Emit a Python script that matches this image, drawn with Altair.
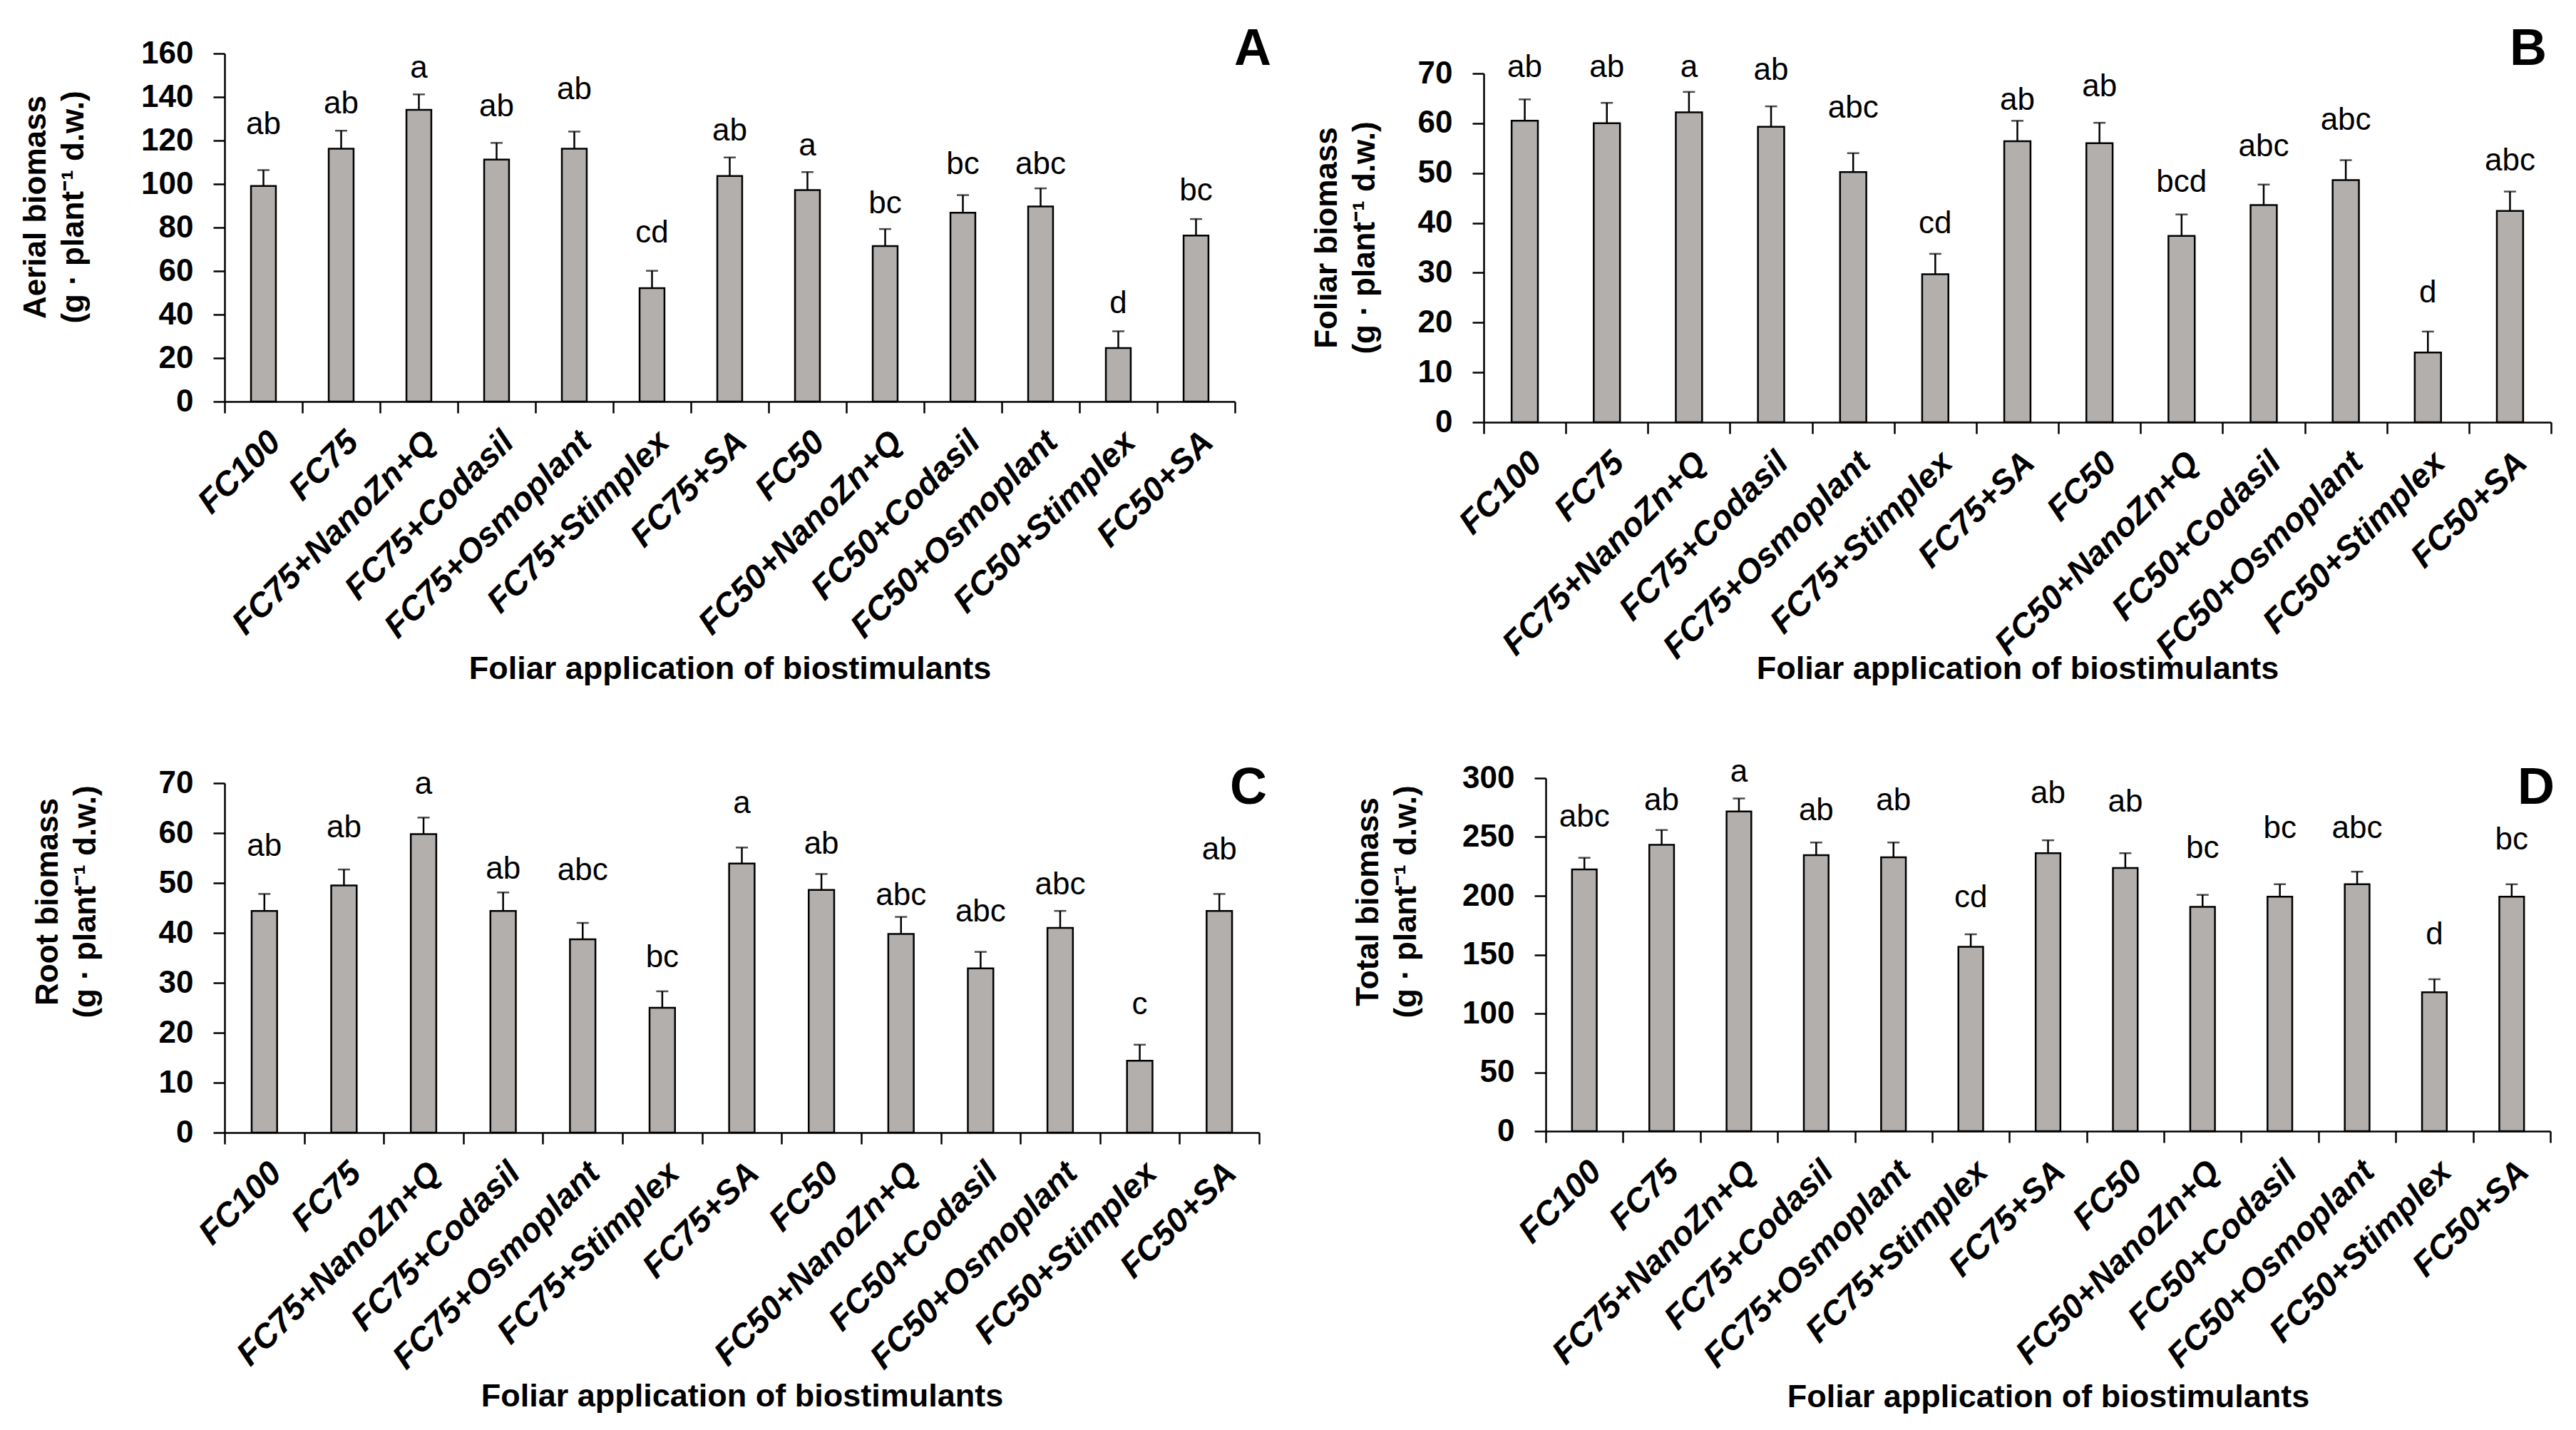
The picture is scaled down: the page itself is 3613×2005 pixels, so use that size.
import altair as alt
import pandas as pd

FONT = "Liberation Sans"
GRAY = "#B3AFAC"

cats = ["FC100", "FC75", "FC75+NanoZn+Q", "FC75+Codasil", "FC75+Osmoplant",
        "FC75+Stimplex", "FC75+SA", "FC50", "FC50+NanoZn+Q", "FC50+Codasil",
        "FC50+Osmoplant", "FC50+Stimplex", "FC50+SA"]

# Panel A - aerial biomass
aerial_mean = [99.1, 116.2, 134.1, 111.2, 116.2, 52.1, 103.7, 97.2, 71.5, 86.8, 89.7, 24.6, 76.3]
aerial_se = [7.3, 8.3, 7.1, 7.7, 7.9, 8.0, 8.5, 8.3, 7.8, 8.1, 8.3, 7.7, 7.6]
aerial_sig = ["ab", "ab", "a", "ab", "ab", "cd", "ab", "a", "bc", "bc", "abc", "d", "bc"]
aerial_lab_y = [123, 132.5, 149, 131, 139, 73, 120, 113, 86.5, 104.7, 104.7, 40.7, 92.4]

# Panel B - foliar biomass
foliar_mean = [60.5, 60.0, 62.2, 59.3, 50.2, 29.7, 56.4, 56.0, 37.4, 43.6, 48.6, 14.0, 42.4]
foliar_se = [4.3, 4.1, 4.1, 4.1, 3.8, 4.1, 4.1, 4.1, 4.3, 4.1, 4.0, 4.2, 3.9]
foliar_sig = ["ab", "ab", "a", "ab", "abc", "cd", "ab", "ab", "bcd", "abc", "abc", "d", "abc"]
foliar_lab_y = [69.3, 69.3, 69.3, 68.7, 61.1, 38.0, 62.7, 65.4, 46.3, 53.4, 58.7, 24.0, 50.6]

# Panel C - root biomass
root_mean = [44.4, 49.5, 59.8, 44.4, 38.7, 25.0, 53.9, 48.6, 39.8, 32.9, 41.0, 14.4, 44.4]
root_se = [3.4, 3.2, 3.3, 3.7, 3.3, 3.3, 3.2, 3.2, 3.4, 3.3, 3.4, 3.2, 3.4]
root_sig = ["ab", "ab", "a", "ab", "abc", "bc", "a", "ab", "abc", "abc", "abc", "c", "ab"]
root_lab_y = [55.5, 59.2, 67.9, 50.9, 50.6, 33.1, 64.0, 55.9, 45.6, 42.3, 47.7, 23.7, 54.7]

# Panel D - total biomass
total_mean = [222.4, 243.3, 271.7, 234.6, 232.7, 156.7, 236.2, 223.6, 190.6, 199.2, 209.8, 118.1, 199.2]
total_se = [9.9, 12.6, 11.0, 10.7, 12.6, 10.6, 11.0, 12.6, 10.2, 10.6, 10.7, 11.0, 10.6]
total_sig = ["abc", "ab", "a", "ab", "ab", "cd", "ab", "ab", "bc", "bc", "abc", "d", "bc"]
total_lab_y = [259, 272.8, 297, 264.2, 272.8, 190.2, 278.7, 271.7, 232.3, 249.2, 249.2, 158.7, 239.4]

UNIT = "(g \u00b7 plant\u207b\u00b9 d.w.)"
XTITLE = "Foliar application of biostimulants"


def make_panel(mean, se, sig, lab_y, ymax, ystep, ytitle, letter,
               W, H, yoff, ttl_x, ttl_y, xttl_y, let_x, let_y):
    df = pd.DataFrame({
        "cat": cats,
        "val": mean,
        "top": [m + s for m, s in zip(mean, se)],
        "sig": sig,
        "ly": lab_y,
    })
    Ht = H + yoff
    xsc = alt.Scale(domain=cats, paddingInner=0, paddingOuter=0)
    ysc = alt.Scale(domain=[0, ymax], range=[Ht, yoff], nice=False)
    xax = alt.Axis(
        labelAngle=-45, labelAlign="right", labelBaseline="top",
        labelFont=FONT, labelFontSize=47, labelFontWeight="bold",
        labelFontStyle="italic", labelColor="black", labelLimit=2000,
        labelOverlap=False, labelPadding=17,
        tickBand="extent", tickSize=16, tickWidth=2.5, tickColor="black",
        domainColor="black", domainWidth=2.5, grid=False,
        title=XTITLE, titleFont=FONT, titleFontSize=45, titleFontWeight="bold",
        titleColor="black", titleBaseline="alphabetic", titleY=xttl_y,
    )
    yax = alt.Axis(
        values=list(range(0, ymax + 1, ystep)),
        labelFont=FONT, labelFontSize=44, labelFontWeight="bold",
        labelColor="black", labelPadding=28,
        tickSize=16, tickWidth=2.5, tickColor="black",
        domainColor="black", domainWidth=2.5, grid=False,
        title=[ytitle, UNIT], titleFont=FONT, titleFontSize=44,
        titleFontWeight="bold", titleColor="black", titleLineHeight=53,
        titleAngle=270, titleAlign="center", titleBaseline="middle",
        titleX=ttl_x, titleY=ttl_y,
    )
    base = alt.Chart(df)
    xe = alt.X("cat:N", sort=cats, scale=xsc, axis=xax)

    def ye(field):
        return alt.Y(field, scale=ysc, axis=yax)

    bars = base.mark_bar(fill=GRAY, stroke="black", strokeWidth=2.5,
                         width=alt.RelativeBandSize(0.32)).encode(
        x=xe, y=ye("val:Q"))
    err = base.mark_rule(color="black", strokeWidth=2.5).encode(
        x=xe, y=ye("val:Q"), y2="top:Q")
    caps = base.mark_tick(color="black", size=17, thickness=2.5).encode(
        x=xe, y=ye("top:Q"))
    txt = base.mark_text(font=FONT, fontSize=44, baseline="alphabetic",
                         align="center", color="black").encode(
        x=xe, y=ye("ly:Q"), text="sig:N")
    let = alt.Chart(pd.DataFrame({"t": [letter]})).mark_text(
        font=FONT, fontSize=72, fontWeight="bold", align="right",
        baseline="alphabetic", color="black").encode(
        x=alt.value(let_x), y=alt.value(let_y), text="t:N")
    return alt.layer(bars, err, caps, txt, let).properties(width=W, height=Ht)


pA = make_panel(aerial_mean, aerial_se, aerial_sig, aerial_lab_y, 160, 20,
                "Aerial biomass", "A", 1417, 488, 0, -265, 215, 388, 1468, 16)
pB = make_panel(foliar_mean, foliar_se, foliar_sig, foliar_lab_y, 70, 10,
                "Foliar biomass", "B", 1497, 489, 28, -220, 258, 359, 1491, 16)
pC = make_panel(root_mean, root_se, root_sig, root_lab_y, 70, 10,
                "Root biomass", "C", 1451, 490, 7, -248, 173, 383, 1462, 36)
pD = make_panel(total_mean, total_se, total_sig, total_lab_y, 300, 50,
                "Total biomass", "D", 1409, 495, 0, -249, 173, 386, 1415, 36)

row1 = alt.hconcat(pA, pB, spacing=349, bounds="flush")
row2 = alt.hconcat(pC, pD, spacing=402, bounds="flush")

chart = alt.vconcat(row1, row2, spacing=100).properties(
    padding={"left": 20, "top": 25, "right": 5, "bottom": 5},
    background="white",
).configure_view(strokeWidth=0)

chart.save("out.html", embed_options={"renderer": "svg", "actions": False})
